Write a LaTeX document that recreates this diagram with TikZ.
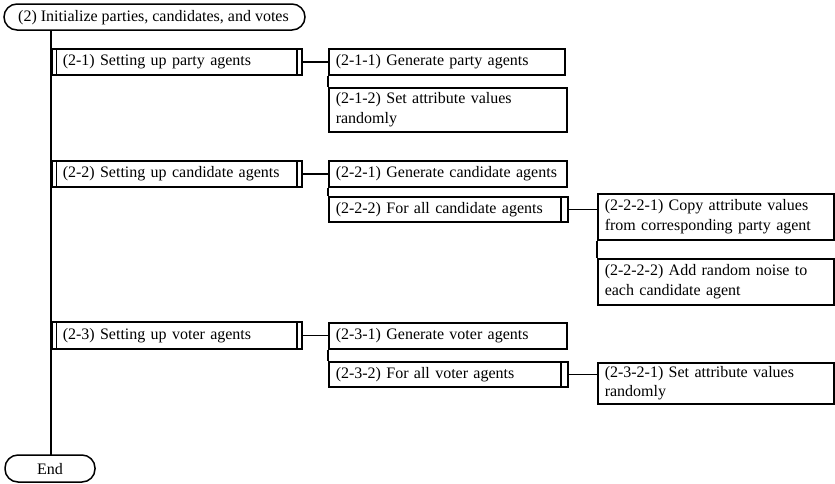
\documentclass[tikz,border=0pt]{standalone}
\usepackage{fontspec}
\setmainfont{Liberation Serif}
\usetikzlibrary{calc}
\begin{document}
\begin{tikzpicture}[x=1pt,y=-1pt,
  every node/.style={font=\fontsize{16}{19.5}\selectfont},
  box/.style={draw,line width=1.5pt,rectangle,anchor=north west,inner xsep=7pt,inner ysep=0pt,align=left},
  conn/.style={line width=1.5pt}]
\useasboundingbox (0,0) rectangle (835,483);
% terminals
\draw[line width=1.5pt,rounded corners=13pt] (4,4) rectangle (305,30);
\node[anchor=west,inner sep=0pt] (start) at (18,17.5) {(2) Initialize parties, candidates, and votes};
\coordinate (startb) at (51,30);
\draw[line width=1.5pt,rounded corners=13pt] (5,455) rectangle (95,482);
\node[inner sep=0pt] (endt) at (50,469) {End};
\coordinate (endtop) at (51,455);
% level 1
\node[box,minimum width=247pt,minimum height=26pt,text width=228pt,inner xsep=11pt] (s21) at (51,48) {(2-1) Setting up party agents};
\node[box,minimum width=247pt,minimum height=26pt,text width=228pt,inner xsep=11pt] (s22) at (51,160) {(2-2) Setting up candidate agents};
\node[box,minimum width=247pt,minimum height=27pt,text width=228pt,inner xsep=11pt] (s23) at (51,321) {(2-3) Setting up voter agents};
\foreach \n in {s21,s22,s23}{
  \draw[conn] ([xshift=5.5pt]\n.north west) -- ([xshift=5.5pt]\n.south west);
  \draw[conn] ([xshift=-5.5pt]\n.north east) -- ([xshift=-5.5pt]\n.south east);
}
% level 2
\node[box,minimum width=236pt,minimum height=26pt,text width=222pt] (s211) at (328,48) {(2-1-1) Generate party agents};
\node[box,minimum width=238pt,minimum height=44pt,text width=224pt] (s212) at (328,87) {(2-1-2) Set attribute values\\randomly};
\node[box,minimum width=238pt,minimum height=26pt,text width=224pt] (s221) at (328,160) {(2-2-1) Generate candidate agents};
\node[box,minimum width=239pt,minimum height=25pt,text width=225pt] (s222) at (328,196) {(2-2-2) For all candidate agents};
\node[box,minimum width=238pt,minimum height=26pt,text width=224pt] (s231) at (328,322) {(2-3-1) Generate voter agents};
\node[box,minimum width=239pt,minimum height=25pt,text width=225pt] (s232) at (328,361) {(2-3-2) For all voter agents};
\foreach \n in {s222,s232}{
  \draw[conn] ([xshift=-7.5pt]\n.north east) -- ([xshift=-7.5pt]\n.south east);
}
% level 3
\node[box,minimum width=236pt,minimum height=46pt,text width=222pt] (s2221) at (597,193) {(2-2-2-1) Copy attribute values\\from corresponding party agent};
\node[box,minimum width=236pt,minimum height=46pt,text width=222pt] (s2222) at (597,258) {(2-2-2-2) Add random noise to\\each candidate agent};
\node[box,minimum width=236pt,minimum height=41pt,text width=222pt] (s2321) at (597,362) {(2-3-2-1) Set attribute values\\randomly};
% connectors
\draw[conn] (startb) -- (endtop);
\draw[conn] (s21.east) -- (s21.east -| s211.west);
\draw[conn] (s22.east) -- (s22.east -| s221.west);
\draw[conn] (s23.east) -- (s23.east -| s231.west);
\draw[conn] (s211.south west) -- (s212.north west);
\draw[conn] (s221.south west) -- (s222.north west);
\draw[conn] (s231.south west) -- (s232.north west);
\draw[conn] (s2221.south west) -- (s2222.north west);
\draw[conn] (s222.east) -- (s222.east -| s2221.west);
\draw[conn] (s232.east) -- (s232.east -| s2321.west);
\end{tikzpicture}
\end{document}
